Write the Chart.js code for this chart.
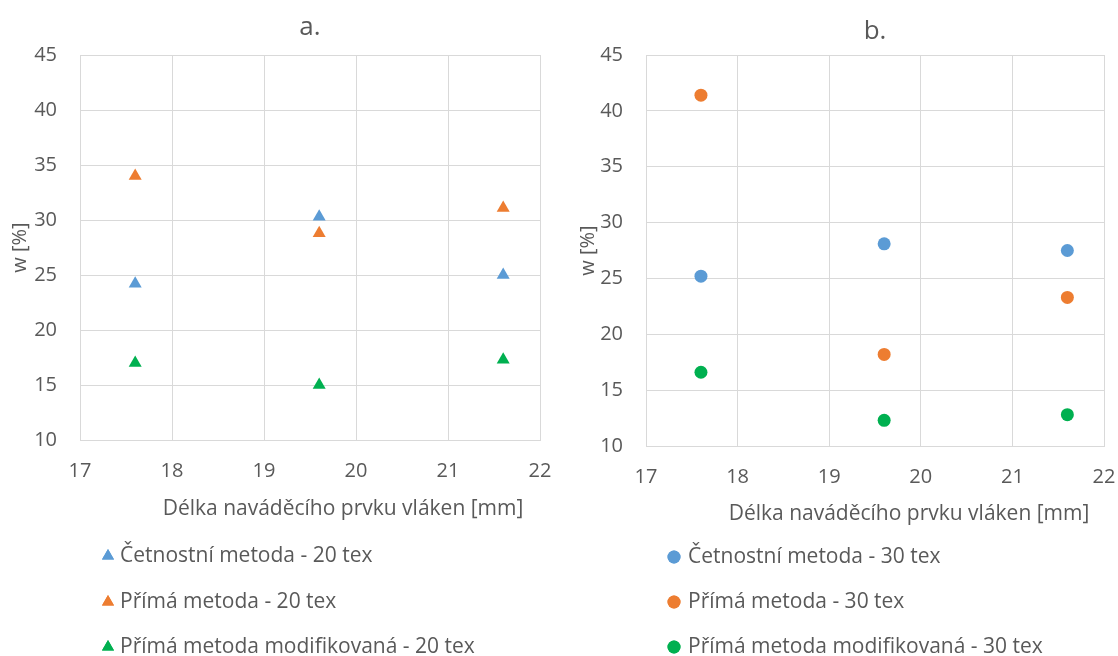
<!DOCTYPE html>
<html>
<head>
<meta charset="utf-8">
<script src="https://cdn.jsdelivr.net/npm/chart.js@4/dist/chart.umd.min.js"></script>
<style>
html,body{margin:0;padding:0;background:#fff;width:1118px;height:656px;overflow:hidden}
canvas{position:absolute;top:0}
#ca{left:0}
#cb{left:560px}
</style>
</head>
<body>
<canvas id="ca" width="560" height="656"></canvas>
<canvas id="cb" width="558" height="656"></canvas>
<script>
// ---- data ----
const xValues = [17.6, 19.6, 21.6];
const a_cetnostni20 = [24.2, 30.3, 25.0];
const a_prima20 = [34.0, 28.8, 31.1];
const a_primaMod20 = [17.0, 15.0, 17.3];
const b_cetnostni30 = [25.2, 28.1, 27.5];
const b_prima30 = [41.4, 18.2, 23.3];
const b_primaMod30 = [16.6, 12.3, 12.8];
const labelsA = ['Četnostní metoda - 20 tex', 'Přímá metoda - 20 tex', 'Přímá metoda modifikovaná - 20 tex'];
const labelsB = ['Četnostní metoda - 30 tex', 'Přímá metoda - 30 tex', 'Přímá metoda modifikovaná - 30 tex'];
const panelTitles = ['a.', 'b.'];
const xAxisTitle = 'Délka naváděcího prvku vláken [mm]';
const yAxisTitle = 'w [%]';
const xMin = 17, xMax = 22, xStep = 1;
const yMin = 10, yMax = 45, yStep = 5;
const colors = ['#5B9BD5', '#ED7D31', '#00B050'];

const FONT = '"Open Sans", Lato, sans-serif';
const TXT = '#595959';
const GRID = '#d9d9d9';

function pts(ys) { return xValues.map((x, i) => ({x: x, y: ys[i]})); }

const decor = {
  id: 'decor',
  afterDraw(chart, args, o) {
    const ctx = chart.ctx;
    const ca = chart.chartArea;
    ctx.save();
    ctx.fillStyle = TXT;
    ctx.textBaseline = 'middle';
    // panel title
    ctx.textAlign = 'center';
    ctx.font = '26px ' + FONT;
    ctx.fillText(o.title, (ca.left + ca.right) / 2, o.titleY);
    // x axis title
    ctx.font = o.xTitleSize + 'px ' + FONT;
    ctx.fillText(xAxisTitle, o.xTitleX, o.xTitleY);
    // legend (vertical list)
    ctx.textAlign = 'left';
    ctx.font = o.legendSize + 'px ' + FONT;
    chart.data.datasets.forEach((ds, i) => {
      const y = o.legendY[i];
      ctx.save();
      ctx.fillStyle = ds.backgroundColor;
      ctx.strokeStyle = ds.backgroundColor;
      Chart.helpers.drawPoint(ctx, {pointStyle: ds.pointStyle, radius: o.legendR, borderWidth: 0}, o.legendMarkX, y);
      ctx.fill();
      ctx.restore();
      ctx.fillStyle = TXT;
      ctx.fillText(ds.label, o.legendTextX, y);
    });
    ctx.restore();
  }
};

function makeChart(id, W, H, area, series, labels, style, radius, d) {
  const XH = 60;
  const datasets = series.map((ys, i) => ({
    label: labels[i],
    data: pts(ys),
    pointStyle: style,
    pointRadius: radius,
    pointHoverRadius: radius,
    pointBorderWidth: 0,
    backgroundColor: colors[i],
    borderColor: colors[i],
    showLine: false
  }));
  return new Chart(document.getElementById(id), {
    type: 'scatter',
    data: {datasets},
    plugins: [decor],
    options: {
      responsive: false,
      animation: false,
      devicePixelRatio: 1,
      layout: {padding: {left: 0, top: area.top, right: W - area.right, bottom: H - area.bottom - XH}},
      plugins: {
        legend: {display: false},
        title: {display: false},
        tooltip: {enabled: false},
        decor: d
      },
      scales: {
        x: {
          type: 'linear', min: xMin, max: xMax,
          afterFit(s) { s.height = XH; s.paddingLeft = 0; s.paddingRight = 0; },
          ticks: {stepSize: xStep, color: TXT, font: {family: FONT, size: 20}, padding: 19},
          grid: {color: GRID, lineWidth: 1, drawTicks: false},
          border: {color: GRID, width: 1}
        },
        y: {
          type: 'linear', min: yMin, max: yMax,
          afterFit(s) { s.width = area.left; s.paddingTop = 0; s.paddingBottom = 0; },
          ticks: {stepSize: yStep, color: TXT, font: {family: FONT, size: 20}, padding: 23},
          grid: {color: GRID, lineWidth: 1, drawTicks: false},
          border: {color: GRID, width: 1},
          title: {display: true, text: yAxisTitle, color: TXT, font: {family: FONT, size: 20}, padding: {top: d.yTitlePad, bottom: 0}}
        }
      }
    }
  });
}

makeChart('ca', 560, 656, {left: 80, right: 540, top: 55, bottom: 440},
  [a_cetnostni20, a_prima20, a_primaMod20], labelsA, 'triangle', 7.5,
  {title: panelTitles[0], titleY: 28, xTitleX: 343, xTitleY: 509, xTitleSize: 21,
   legendSize: 21, legendY: [556, 602, 647], legendMarkX: 108, legendTextX: 120, legendR: 7, yTitlePad: 8});

makeChart('cb', 558, 656, {left: 86, right: 544, top: 55, bottom: 446},
  [b_cetnostni30, b_prima30, b_primaMod30], labelsB, 'circle', 6.5,
  {title: panelTitles[1], titleY: 32, xTitleX: 349, xTitleY: 514, xTitleSize: 21,
   legendSize: 21, legendY: [557, 602, 647], legendMarkX: 114, legendTextX: 128, legendR: 6.5, yTitlePad: 16});
</script>
</body>
</html>
